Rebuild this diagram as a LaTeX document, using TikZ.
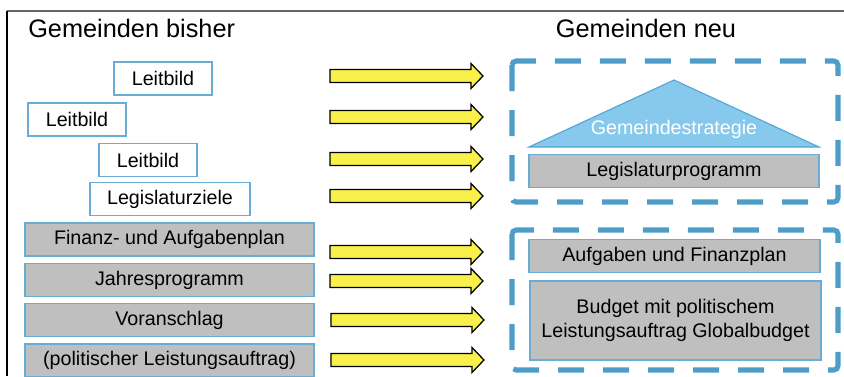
\documentclass[tikz,border=0pt]{standalone}
\usepackage{fontspec}
\setmainfont{Liberation Sans}
\usepackage{tikz}
\usetikzlibrary{positioning}

\definecolor{boxblue}{RGB}{105,172,212}
\definecolor{dashblue}{RGB}{78,157,200}
\definecolor{roofblue}{RGB}{135,201,236}
\definecolor{roofline}{RGB}{85,165,212}
\definecolor{boxgray}{RGB}{191,191,191}
\definecolor{arrowyellow}{RGB}{250,240,75}

\begin{document}
\begin{tikzpicture}[x=0.025cm, y=-0.025cm,
    txt/.style={font=\fontsize{14}{17}\selectfont, inner sep=0pt},
    oldbox/.style={txt, draw=boxblue, line width=1.2pt, fill=white, minimum height=0.825cm},
    planbox/.style={txt, draw=boxblue, line width=1.2pt, fill=boxgray, minimum height=0.825cm},
    group/.style={draw=dashblue, line width=3.6pt, dash pattern=on 18.5pt off 13.5pt, rounded corners=3pt}]
\useasboundingbox (0,0) rectangle (844,376);

% frame
\draw [gray!80!black, line width=1.2pt] (7,11) -- (844,11);
\draw [black, line width=0.8pt] (7,11) -- (7,376);

% headings
\node [txt, font=\fontsize{18}{20}\selectfont, anchor=west] (bisher) at (28,28) {Gemeinden bisher};
\node [txt, font=\fontsize{18}{20}\selectfont] (neu) at (646,28) {Gemeinden neu};

% left column
\node [oldbox, minimum width=2.45cm] (leit1) at (163,78.5) {Leitbild};
\node [oldbox, minimum width=2.45cm] (leit2) at (77,119.5) {Leitbild};
\node [oldbox, minimum width=2.45cm] (leit3) at (148,160) {Leitbild};
\node [oldbox, minimum width=4cm] (ziele) at (170,199) {Legislaturziele};
\node [planbox, minimum width=7.225cm] (fap) at (169.5,239.5) {Finanz- und Aufgabenplan};
\node [planbox, minimum width=7.225cm] (jahr) at (169.5,280) {Jahresprogramm};
\node [planbox, minimum width=7.225cm] (vor) at (169.5,320) {Voranschlag};
\node [planbox, minimum width=7.225cm] (pla) at (169.5,360.5) {(politischer Leistungsauftrag)};

% yellow arrows
\foreach \x/\y in {330/76, 330/117, 330/159, 330/196, 330/252, 330/281, 331/320, 331/360}
        \fill [draw=black, line width=0.9pt, fill=arrowyellow] (\x,\y-6.5) to ++ (141,0) to ++ (0,-6) to ++ (12,12.5) to ++ (-12,12.5) to ++ (0,-6) to ++ (-141,0) -- cycle;

% right column, upper group
\draw [group] (512,61) rectangle (838,202);
\fill [draw=roofline, line width=0.8pt, fill=roofblue] (529,147) to (674,80) to (819,147) -- cycle;
\node [txt, text=white] (strat) at (674,129) {Gemeindestrategie};
\node [planbox, minimum width=7.25cm] (legprog) at (674,171) {Legislaturprogramm};

% right column, lower group
\draw [group] (512,230) rectangle (838,370);
\node [planbox, minimum width=7.275cm] (afp) at (674.5,256) {Aufgaben und Finanzplan};
\node [planbox, minimum width=7.275cm, minimum height=1.975cm, align=center] (budget) at (675.5,320.5) {Budget mit politischem\\Leistungsauftrag Globalbudget};
\end{tikzpicture}
\end{document}
